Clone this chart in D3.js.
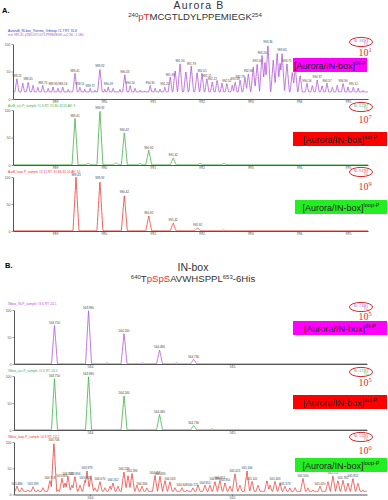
<!DOCTYPE html>
<html><head><meta charset="utf-8">
<script src="https://cdn.jsdelivr.net/npm/d3@7"></script>
<style>body{margin:0;background:#fff}svg{display:block}</style>
</head><body><svg id="c" width="388" height="500"></svg>
<script>
// ---------------- DATA ----------------
// m/z axis ticks
const ticksA = [989, 990, 991, 992, 993, 994, 995];
const ticksB = [564, 565];
const ticksInt = [0, 50, 100];
// peaks: [m/z, relative intensity %, labelled(1/0)]
const aurINP = [
 [988.22,38,1],[988.34,29,0],[988.45,31,1],[988.55,25,0],[988.65,22,0],[988.75,25,1],[988.86,20,0],[988.96,22,1],
 [989.06,20,0],[989.16,22,1],[989.27,18,0],[989.41,47,1],[989.51,22,1],[989.61,18,0],[989.72,20,1],[989.82,16,0],
 [989.92,55,1],[990.02,18,0],[990.09,22,1],[990.19,20,0],[990.33,18,0],[990.43,45,1],[990.54,25,1],[990.64,20,0],
 [990.74,16,0],[990.84,15,0],[990.95,25,1],[991.05,20,0],[991.15,18,0],[991.25,22,1],[991.36,40,1],[991.46,53,0],
 [991.56,64,1],[991.68,51,0],[991.79,60,1],[991.91,49,0],[992.01,47,1],[992.11,38,1],[992.22,31,1],[992.32,35,0],
 [992.42,29,0],[992.52,29,1],[992.63,25,0],[992.69,31,1],[992.79,35,1],[992.89,40,0],[992.96,47,1],[993.06,58,0],
 [993.14,65,1],[993.24,80,1],[993.30,67,0],[993.36,100,1],[993.47,71,0],[993.55,85,0],[993.61,67,0],[993.65,84,1],
 [993.75,65,1],[993.86,49,0],[993.92,58,0],[994.02,44,0],[994.16,29,1],[994.27,25,0],[994.37,35,1],[994.47,25,0],
 [994.57,29,1],[994.68,22,0],[994.78,25,0],[994.90,29,1],[995.00,22,0],[995.11,22,1],[995.21,20,0],[995.31,16,0]
];
const aurActP = [
 [989.41,85,1],[989.68,3,0],[989.92,100,1],[990.25,4,0],[990.42,60,1],[990.74,3,0],[990.92,27,1],[991.42,13,1],
 [991.97,3,0],[992.46,3,0]
];
const aurLoopP = [
 [989.43,100,1],[989.92,93,1],[990.42,67,1],[990.92,28,1],[991.42,15,1],[991.92,6,1],[992.44,2,0]
];
const inbINP = [
 [563.75,72,1],[563.99,100,1],[564.12,2,0],[564.24,57,1],[564.37,2,0],[564.49,26,1],[564.61,2,0],[564.73,9,1]
];
const inbActP = [
 [563.75,96,1],[563.99,100,1],[564.24,64,1],[564.49,29,1],[564.73,9,1],[564.86,2,0]
];
const inbLoopP = [
 [563.486,16,1],[563.521,13,0],[563.563,9,0],[563.599,15,1],[563.634,9,0],[563.669,13,0],[563.718,27,1],[563.746,100,1],
 [563.775,9,0],[563.803,31,1],[563.824,22,0],[563.845,35,1],[563.873,18,0],[563.894,35,1],[563.930,18,0],[563.965,27,1],
 [563.979,45,1],[564.007,36,0],[564.035,13,0],[564.070,25,1],[564.106,13,0],[564.141,16,0],[564.162,22,1],[564.197,16,0],
 [564.239,44,1],[564.268,36,0],[564.296,40,1],[564.331,18,0],[564.366,16,1],[564.401,13,0],[564.458,36,1],[564.493,35,1],
 [564.528,27,0],[564.563,25,1],[564.599,13,0],[564.648,13,1],[564.683,9,0],[564.725,13,1],[564.761,18,0],[564.810,18,1],
 [564.845,18,0],[564.880,25,1],[564.915,27,1],[564.951,22,1],[564.986,16,0],[565.021,40,1],[565.056,18,0],[565.106,45,1],
 [565.141,25,1],[565.183,18,0],[565.246,27,0],[565.268,18,0],[565.303,25,1],[565.338,22,0],[565.373,16,1],[565.408,13,0],
 [565.444,13,0],[565.500,31,1],[565.535,13,0],[565.570,9,0],[565.620,16,1],[565.676,25,0],[565.711,36,1],[565.746,27,0],
 [565.782,27,1],[565.817,22,0],[565.852,31,1],[565.887,22,0],[565.923,9,0]
];
// noise floor (% of panel maximum) per panel
const noiseFloor = [13, 0.5, 0.5, 0.5, 0.5, 6];
// annotations
const stateNames = ["IN-P", "act-P", "loop-P", "IN-P", "act-P", "loop-P"];
const ratioExp = ["1", "7", "9", "5", "5", "0"];
const headerText = [
 ["AuroraB_IN-box_Thermo_Orbitrap #1-7 RT: 31.8", "m/z 989.41 pTMCGTLDYLPPEMIEGK z=2 NL: 1.1E4"],
 ["AurB_act-P_sample #1-9 RT: 31.80-32.05 AV: 9"],
 ["AurB_loop-P_sample #2-11 RT: 31.84-32.10 AV: 10"],
 ["INbox_IN-P_sample #3-6 RT: 24.1"],
 ["INbox_act-P_sample #2-5 RT: 24.0"],
 ["INbox_loop-P_sample #4-9 RT: 24.2"]
];
const nlText = [["NL: 3.85E4","TIC"],["NL: 6.12E7","TIC"],["NL: 8.47E9","TIC"],["NL: 2.30E5","TIC"],["NL: 4.71E5","TIC"],["NL: 1.02E0","TIC"]];

// ---------------- DRAWING ----------------
const svg = d3.select("#c");
const colPurple = "#b056d6", colGreen = "#3fae44", colRed = "#ec3b35";
const boxFill = {"IN-P": "#ff00ff", "act-P": "#ff0000", "loop-P": "#22ee22"};

// titles
svg.append("text").attr("x", 2).attr("y", 13).attr("font-family", "Liberation Sans, Arial, sans-serif")
  .attr("font-weight", "bold").attr("font-size", 7.5).text("A.");
svg.append("text").attr("x", 199).attr("y", 9).attr("text-anchor", "middle")
  .attr("font-family", "Liberation Sans, Arial, sans-serif").attr("font-size", 10.5).attr("fill", "#333")
  .attr("letter-spacing", 1.2).text("Aurora B");
{
  const t = svg.append("text").attr("x", 195).attr("y", 20).attr("text-anchor", "middle")
    .attr("font-family", "Liberation Sans, Arial, sans-serif").attr("font-size", 9.6).attr("fill", "#333");
  t.append("tspan").attr("font-size", 6).attr("dy", -3.5).text("240");
  t.append("tspan").attr("dy", 3.5).attr("fill", "#e53030").text("pT");
  t.append("tspan").text("MCGTLDYLPPEMIEGK");
  t.append("tspan").attr("font-size", 6).attr("dy", -3.5).text("254");
}
svg.append("text").attr("x", 5).attr("y", 268).attr("font-family", "Liberation Sans, Arial, sans-serif")
  .attr("font-weight", "bold").attr("font-size", 7.5).text("B.");
svg.append("text").attr("x", 193).attr("y", 271).attr("text-anchor", "middle")
  .attr("font-family", "Liberation Sans, Arial, sans-serif").attr("font-size", 10.5).attr("fill", "#333").text("IN-box");
{
  const t = svg.append("text").attr("x", 193).attr("y", 282).attr("text-anchor", "middle")
    .attr("font-family", "Liberation Sans, Arial, sans-serif").attr("font-size", 9.6).attr("fill", "#333");
  t.append("tspan").attr("font-size", 6).attr("dy", -3.5).text("640");
  t.append("tspan").attr("dy", 3.5).text("T");
  t.append("tspan").attr("fill", "#e53030").text("pSpS");
  t.append("tspan").text("AVWHSPPL");
  t.append("tspan").attr("font-size", 6).attr("dy", -3.5).text("653");
  t.append("tspan").attr("dy", 3.5).text("-6His");
}

const panels = [
 {peaks: aurINP,  dom: [988.14, 995.41], ticks: ticksA, left: 13, right: 368, top: 44,  bottom: 99,  col: colPurple, hdr: 32, ell: 42, exp: 56, box: [293, 58, 74]},
 {peaks: aurActP, dom: [988.14, 995.41], ticks: ticksA, left: 13, right: 368, top: 110, bottom: 165, col: colGreen,  hdr: 106.5, ell: 107, exp: 123, box: [293, 132, 94]},
 {peaks: aurLoopP,dom: [988.14, 995.41], ticks: ticksA, left: 13, right: 368, top: 177, bottom: 231, col: colRed,    hdr: 172.5, ell: 172, exp: 190, box: [295, 200, 92]},
 {peaks: inbINP,  dom: [563.465, 565.951], ticks: ticksB, left: 14, right: 367, top: 310, bottom: 364, col: colPurple, hdr: 305, ell: 307, exp: 320, box: [293, 321, 94]},
 {peaks: inbActP, dom: [563.465, 565.951], ticks: ticksB, left: 14, right: 367, top: 376, bottom: 430, col: colGreen,  hdr: 372, ell: 372, exp: 386, box: [293, 395, 94]},
 {peaks: inbLoopP,dom: [563.465, 565.951], ticks: ticksB, left: 14, right: 367, top: 442, bottom: 494.5, col: colRed, hdr: 437.5, ell: 437, exp: 454, box: [295, 458, 92]}
];

const halfW = 3; // peak half-width in px
panels.forEach((p, i) => {
  const g = svg.append("g");
  const x = d3.scaleLinear().domain(p.dom).range([p.left, p.right]);
  const y = d3.scaleLinear().domain([0, 100]).range([p.bottom, p.top]);

  // header text
  headerText[i].forEach((s, k) => {
    g.append("text").attr("x", 8).attr("y", p.hdr + k * 4.2).attr("font-family", "Liberation Sans, Arial, sans-serif")
      .attr("font-size", 3.2).attr("fill", (i === 0 && k === 0) ? "#3030c0" : p.col).text(s);
  });

  // profile spectrum
  const pts = [];
  for (let px = p.left; px <= p.right; px += 0.25) {
    let v = noiseFloor[i];
    for (const pk of p.peaks) {
      const d = Math.abs(px - x(pk[0]));
      if (d < halfW) v = Math.max(v, pk[1] * (1 - d / halfW));
    }
    pts.push([x.invert(px), v]);
  }
  g.append("path").datum(pts).attr("fill", "none").attr("stroke", p.col).attr("stroke-width", 0.8)
    .attr("stroke-linejoin", "round")
    .attr("d", d3.line().x(d => x(d[0])).y(d => y(d[1])));

  // peak labels
  g.selectAll("text.pl").data(p.peaks.filter(d => d[2])).join("text").attr("class", "pl")
    .attr("x", d => x(d[0])).attr("y", d => y(d[1]) - 1.5).attr("text-anchor", "middle")
    .attr("font-family", "Liberation Sans, Arial, sans-serif").attr("font-size", 3).attr("fill", "#444")
    .text(d => d3.format(i < 3 ? ".2f" : ".3f")(d[0]));

  // axes
  const ax = g.append("g").attr("transform", `translate(0,${p.bottom})`)
    .call(d3.axisBottom(x).tickValues(p.ticks).tickSize(1.5).tickPadding(0.5).tickSizeOuter(0).tickFormat(d3.format("d")));
  const ay = g.append("g").attr("transform", `translate(${p.left},0)`)
    .call(d3.axisLeft(y).tickValues(ticksInt).tickSize(1.5).tickPadding(1).tickSizeOuter(0));
  [ax, ay].forEach(a => {
    a.select(".domain").attr("stroke", "#555").attr("stroke-width", 1);
    a.selectAll(".tick line").attr("stroke", "#555").attr("stroke-width", 0.6);
    a.selectAll(".tick text").attr("font-size", 3.5).attr("fill", "#555").attr("font-family", "Liberation Sans, Arial, sans-serif");
  });

  // red ellipse with NL text
  g.append("ellipse").attr("cx", 361).attr("cy", p.ell).attr("rx", 11.5).attr("ry", 4.6)
    .attr("fill", "none").attr("stroke", "#d9262a").attr("stroke-width", 1);
  nlText[i].forEach((s, k) => {
    g.append("text").attr("x", k ? 366 : 361).attr("y", p.ell - 0.4 + k * 3.2).attr("text-anchor", "middle")
      .attr("font-family", "Liberation Sans, Arial, sans-serif").attr("font-size", 2.8).attr("fill", p.col).text(s);
  });
  // exponent
  const et = g.append("text").attr("x", 365).attr("y", p.exp).attr("text-anchor", "middle")
    .attr("font-family", "Liberation Serif, Times New Roman, serif").attr("font-size", 10).attr("fill", "#e0301e");
  et.append("tspan").text("10");
  et.append("tspan").attr("font-size", 6.5).attr("dy", -4).text(ratioExp[i]);

  // coloured state box
  const [bx, by, bw] = p.box;
  g.append("rect").attr("x", bx).attr("y", by).attr("width", bw).attr("height", 14).attr("fill", boxFill[stateNames[i]]);
  const bt = g.append("text").attr("x", bx + bw / 2).attr("y", by + 10.5).attr("text-anchor", "middle")
    .attr("font-family", "Liberation Sans, Arial, sans-serif").attr("font-size", 9).attr("fill", "#222");
  bt.append("tspan").text("[Aurora/IN-box]");
  bt.append("tspan").attr("font-size", 5.5).attr("dy", -3.5).text(stateNames[i]);
});
</script>
</body></html>
